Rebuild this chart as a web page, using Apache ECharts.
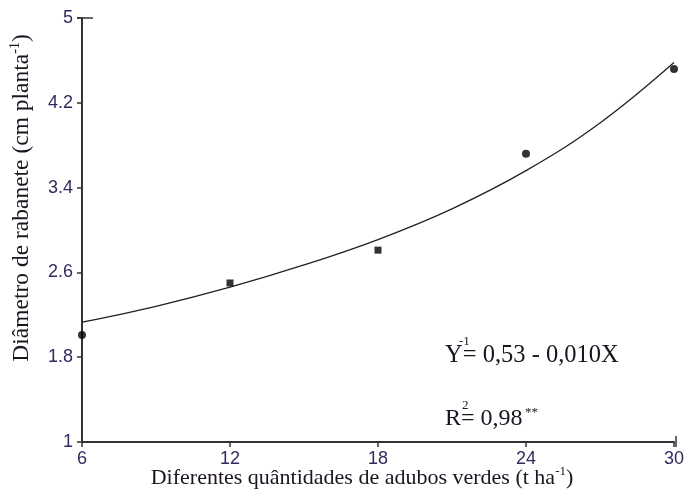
<!DOCTYPE html>
<html>
<head>
<meta charset="utf-8">
<script src="https://cdn.jsdelivr.net/npm/echarts@6/dist/echarts.min.js"></script>
<style>
  html, body { margin: 0; padding: 0; background: #fff; }
  #chart { width: 687px; height: 492px; }
</style>
</head>
<body>
<div id="chart"></div>
<script>
// Green-manure quantity (t/ha) and observed radish diameter (cm/plant)
const doses = [6, 12, 18, 24, 30];
const diameter = [2.01, 2.50, 2.81, 3.72, 4.52];

// Fitted regression curve, sampled along the dose range
const curveX = [6, 9, 12, 15, 18, 21, 24, 27, 30];
const curveY = [2.13, 2.28, 2.46, 2.67, 2.91, 3.20, 3.56, 4.01, 4.58];

// Axis ticks
const xTicks = [6, 12, 18, 24, 30];
const yTicks = [1, 1.8, 2.6, 3.4, 4.2, 5];

// Marker shape per treatment
const pointShapes = ['circle', 'rect', 'rect', 'circle', 'circle'];

const serif = '"Liberation Serif", "Times New Roman", serif';
const sans = '"Liberation Sans", Arial, sans-serif';
const tickColor = '#35285e';
const textColor = '#1c1420';

const chart = echarts.init(document.getElementById('chart'), null, { renderer: 'canvas' });

chart.setOption({
  animation: false,
  backgroundColor: '#fff',
  grid: { left: 82, right: 11, top: 18, bottom: 50 },
  xAxis: {
    type: 'value',
    min: xTicks[0],
    max: xTicks[xTicks.length - 1],
    interval: xTicks[1] - xTicks[0],
    axisLine: { lineStyle: { color: '#333', width: 2 } },
    axisTick: { show: true, length: 5, lineStyle: { color: '#333', width: 1.5 } },
    axisLabel: { color: tickColor, fontFamily: sans, fontSize: 18, margin: 8 },
    splitLine: { show: false }
  },
  yAxis: {
    type: 'value',
    min: yTicks[0],
    max: yTicks[yTicks.length - 1],
    interval: 0.8,
    axisLine: { show: true, lineStyle: { color: '#333', width: 2 } },
    axisTick: { show: true, length: 5, lineStyle: { color: '#333', width: 1.5 } },
    axisLabel: {
      color: tickColor, fontFamily: sans, fontSize: 18, margin: 9,
      formatter: v => String(Math.round(v * 10) / 10)
    },
    splitLine: { show: false }
  },
  series: [
    {
      type: 'line',
      data: curveX.map((x, i) => [x, curveY[i]]),
      smooth: 0.4,
      showSymbol: false,
      symbol: 'none',
      lineStyle: { color: '#222', width: 1.3 },
      z: 2
    },
    {
      type: 'scatter',
      data: doses.map((x, i) => [x, diameter[i]]),
      symbol: (v, p) => pointShapes[p.dataIndex],
      symbolSize: (v, p) => pointShapes[p.dataIndex] === 'rect' ? 7 : 8,
      itemStyle: { color: '#000' },
      z: 3
    }
  ],
  graphic: [
    // cap at top of the y axis and crossing tick at the end of the x axis
    { type: 'line', shape: { x1: 77, y1: 18, x2: 93, y2: 18 }, style: { stroke: '#333', lineWidth: 1.5 } },
    { type: 'line', shape: { x1: 676, y1: 436, x2: 676, y2: 447 }, style: { stroke: '#333', lineWidth: 1.5 } },
    // y axis title
    {
      type: 'text',
      x: 22, y: 198,
      rotation: Math.PI / 2,
      style: {
        text: '{t|Diâmetro de rabanete (cm planta}{s|-1}{t|)}',
        align: 'center', verticalAlign: 'middle',
        rich: {
          t: { fontFamily: serif, fontSize: 23.5, fill: textColor },
          s: { fontFamily: serif, fontSize: 14, fill: textColor, padding: [0, 0, 13, 0] }
        }
      }
    },
    // x axis title
    {
      type: 'text',
      x: 362, y: 478,
      style: {
        text: '{t|Diferentes quântidades de adubos verdes (t ha}{s|-1}{t|)}',
        align: 'center', verticalAlign: 'middle',
        rich: {
          t: { fontFamily: serif, fontSize: 22, fill: textColor },
          s: { fontFamily: serif, fontSize: 13, fill: textColor, padding: [0, 0, 12, 0] }
        }
      }
    },
    // regression equation
    {
      type: 'text', x: 445, y: 368,
      style: { text: 'Y= 0,53 - 0,010X', fontFamily: serif, fontSize: 24.5, fill: textColor, verticalAlign: 'bottom' }
    },
    {
      type: 'text', x: 459, y: 342,
      style: { text: '-1', fontFamily: serif, fontSize: 13, fill: textColor, verticalAlign: 'middle' }
    },
    {
      type: 'text', x: 445, y: 431,
      style: { text: 'R= 0,98', fontFamily: serif, fontSize: 24, fill: textColor, verticalAlign: 'bottom' }
    },
    {
      type: 'text', x: 462, y: 406,
      style: { text: '2', fontFamily: serif, fontSize: 13, fill: textColor, verticalAlign: 'middle' }
    },
    {
      type: 'text', x: 525, y: 413,
      style: { text: '**', fontFamily: serif, fontSize: 13, fill: textColor, verticalAlign: 'middle' }
    }
  ]
});
</script>
</body>
</html>
